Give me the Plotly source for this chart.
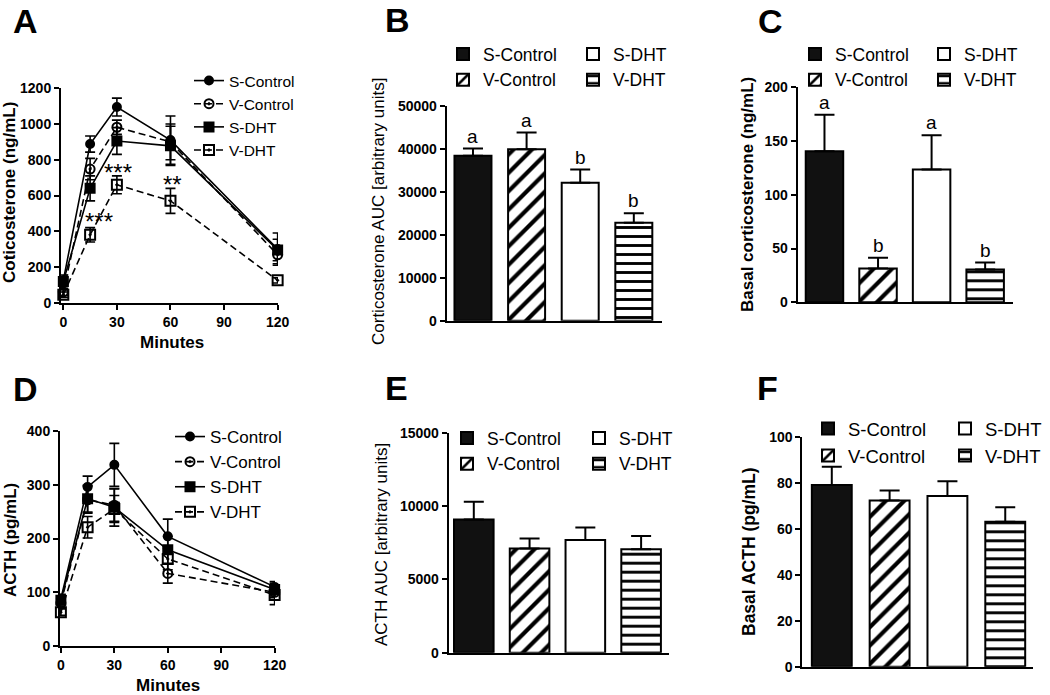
import plotly.graph_objects as go

FONT = "Liberation Sans, Arial, Helvetica, sans-serif"
W, H = 1050, 695

groups = ["S-Control", "V-Control", "S-DHT", "V-DHT"]
minutes = [0, 15, 30, 60, 120]

# Panel A: corticosterone time course (ng/mL)
cort_s_control = [125, 888, 1095, 910, 300]
cort_s_control_err = [30, 45, 50, 135, 90]
cort_v_control = [60, 748, 982, 900, 268]
cort_v_control_err = [20, 60, 40, 100, 50]
cort_s_dht = [118, 640, 905, 878, 295]
cort_s_dht_err = [25, 70, 75, 110, 60]
cort_v_dht = [45, 380, 660, 570, 125]
cort_v_dht_err = [15, 40, 50, 70, 15]
sig_x = [20, 30.5, 61]
sig_y = [474, 748, 677]
sig_text = ["***", "***", "**"]

# Panel D: ACTH time course (pg/mL)
acth_s_control = [88, 296, 337, 204, 110]
acth_s_control_err = [8, 20, 40, 32, 10]
acth_v_control = [80, 272, 262, 135, 100]
acth_v_control_err = [8, 25, 30, 18, 10]
acth_s_dht = [85, 274, 258, 179, 105]
acth_s_dht_err = [8, 25, 35, 25, 12]
acth_v_dht = [63, 221, 255, 162, 95]
acth_v_dht_err = [6, 20, 25, 20, 18]

# Panel B: corticosterone AUC
cort_auc = [38400, 39900, 32100, 22800]
cort_auc_err = [1700, 3900, 3100, 2200]
cort_auc_letters = ["a", "a", "b", "b"]

# Panel C: basal corticosterone (ng/mL)
basal_cort = [140.5, 31.5, 123.5, 30.5]
basal_cort_err = [34, 10, 32, 6.5]
basal_cort_letters = ["a", "b", "a", "b"]

# Panel E: ACTH AUC
acth_auc = [9090, 7110, 7680, 7050]
acth_auc_err = [1200, 680, 860, 900]

# Panel F: basal ACTH (pg/mL)
basal_acth = [79.2, 72.4, 74.4, 63.2]
basal_acth_err = [8, 4.4, 6.4, 6.3]

# ---------------- styles ----------------
line_style = {
    "S-Control": dict(dash="solid", symbol="circle", size=8),
    "V-Control": dict(dash="7px,4px", symbol="circle-open-dot", size=9),
    "S-DHT": dict(dash="solid", symbol="square", size=9),
    "V-DHT": dict(dash="7px,4px", symbol="square-open-dot", size=10),
}
bar_style = {
    "S-Control": dict(color="#111111", shape="", size=8),
    "V-Control": dict(color="white", shape="/", size=13),
    "S-DHT": dict(color="white", shape="", size=8),
    "V-DHT": dict(color="white", shape="-", size=9),
}


def dom_x(a, b):
    return [a / W, b / W]


def dom_y(top, bottom):
    return [1 - bottom / H, 1 - top / H]


fig = go.Figure()

# ---------------- line panels ----------------
time_sets = {
    "A": ("x", "y", "legend",
          [cort_s_control, cort_v_control, cort_s_dht, cort_v_dht],
          [cort_s_control_err, cort_v_control_err, cort_s_dht_err, cort_v_dht_err]),
    "D": ("x4", "y4", "legend4",
          [acth_s_control, acth_v_control, acth_s_dht, acth_v_dht],
          [acth_s_control_err, acth_v_control_err, acth_s_dht_err, acth_v_dht_err]),
}
for key, (xa, ya, leg, means, errs) in time_sets.items():
    for g, m, e in zip(groups, means, errs):
        st = line_style[g]
        fig.add_trace(go.Scatter(
            x=minutes, y=m, name=g, mode="lines+markers", xaxis=xa, yaxis=ya,
            legend=leg, cliponaxis=False,
            line=dict(color="black", width=1.6, dash=st["dash"]),
            marker=dict(symbol=st["symbol"], size=st["size"], color="black",
                        line=dict(color="black", width=2)),
            error_y=dict(type="data", array=e, visible=True, color="black",
                         thickness=1.6, width=5),
        ))

# ---------------- bar panels ----------------
bar_sets = [
    ("x2", "y2", ("legend2", "legend3"), cort_auc, cort_auc_err, 0.69),
    ("x3", "y3", ("legend5", "legend6"), basal_cort, basal_cort_err, 0.70),
    ("x5", "y5", ("legend7", "legend8"), acth_auc, acth_auc_err, 0.71),
    ("x6", "y6", ("legend9", "legend10"), basal_acth, basal_acth_err, 0.69),
]
for xa, ya, legs, vals, errs, bw in bar_sets:
    for i, g in enumerate(groups):
        st = bar_style[g]
        leg = legs[0] if g.endswith("Control") else legs[1]
        marker = dict(color=st["color"], line=dict(color="black", width=2))
        if st["shape"]:
            marker["pattern"] = dict(shape=st["shape"], fgcolor="black", bgcolor="white",
                                     fgopacity=1, size=st["size"], solidity=0.32)
        fig.add_trace(go.Bar(
            x=[g], y=[vals[i]], name=g, xaxis=xa, yaxis=ya, legend=leg,
            width=bw, marker=marker, cliponaxis=False,
            error_y=dict(type="data", array=[errs[i]], arrayminus=[0], symmetric=False,
                         visible=True, color="black", thickness=2, width=10),
        ))

# ---------------- axes ----------------
tickfont = dict(family=FONT, size=14, color="black", weight="bold")
axis_common = dict(showline=True, linecolor="black", linewidth=2, showgrid=False,
                   zeroline=False, fixedrange=True, tickfont=tickfont,
                   ticks="outside", ticklen=5, tickwidth=2, tickcolor="black",
                   tickformat="d", automargin=False)


def y_axis(dom, rng, dtick, anchor):
    return dict(axis_common, domain=dom, range=rng, dtick=dtick, tick0=0, anchor=anchor)


def x_time(dom, rng, anchor):
    return dict(axis_common, domain=dom, range=rng, tickvals=[0, 30, 60, 90, 120], anchor=anchor)


def x_bar(dom, rng, anchor):
    return dict(showline=True, linecolor="black", linewidth=2, showgrid=False, zeroline=False,
                fixedrange=True, type="category", categoryorder="array", categoryarray=groups,
                showticklabels=False, ticks="", domain=dom, range=rng, anchor=anchor,
                automargin=False)


fig.update_layout(
    xaxis=x_time(dom_x(61, 278), [-1.3, 120.2], "y"),
    yaxis=y_axis(dom_y(88.3, 302.7), [0, 1200], 200, "x"),
    xaxis2=x_bar(dom_x(446.7, 661.7), [-0.49, 3.52], "y2"),
    yaxis2=y_axis(dom_y(106, 320.7), [0, 50000], 10000, "x2"),
    xaxis3=x_bar(dom_x(797.7, 1013), [-0.5, 3.52], "y3"),
    yaxis3=y_axis(dom_y(87.3, 302.3), [0, 200], 50, "x3"),
    xaxis4=x_time(dom_x(60, 275), [-0.5, 120.2], "y4"),
    yaxis4=y_axis(dom_y(431, 646), [0, 400], 100, "x4"),
    xaxis5=x_bar(dom_x(448.7, 669), [-0.45, 3.5], "y5"),
    yaxis5=y_axis(dom_y(432.7, 652.7), [0, 15000], 5000, "x5"),
    xaxis6=x_bar(dom_x(802.3, 1033), [-0.51, 3.48], "y6"),
    yaxis6=y_axis(dom_y(437.3, 666.7), [0, 100], 20, "x6"),
)


# ---------------- legends ----------------
def legend_at(left, top, size):
    return dict(x=left / W, y=1 - top / H, xanchor="left", yanchor="top",
                bgcolor="rgba(0,0,0,0)", borderwidth=0, itemwidth=30,
                tracegroupgap=0, traceorder="normal",
                font=dict(family=FONT, size=size, color="black"))


fig.update_layout(
    legend=legend_at(189, 64, 15.5),
    legend4=legend_at(170, 419, 17),
    legend2=legend_at(443, 36, 17.5),
    legend3=legend_at(573, 36, 17.5),
    legend5=legend_at(795, 36, 17.5),
    legend6=legend_at(924, 36, 17.5),
    legend7=legend_at(447, 420, 17.5),
    legend8=legend_at(579, 420, 17.5),
    legend9=legend_at(808, 410, 18.5),
    legend10=legend_at(945, 410, 18.5),
)

# ---------------- annotations ----------------
ann = []


def paper_text(text, cx, cy, size, angle=0):
    ann.append(dict(text=text, x=cx / W, y=1 - cy / H, xref="paper", yref="paper",
                    showarrow=False, textangle=angle, xanchor="center", yanchor="middle",
                    font=dict(family=FONT, size=size, color="black")))


# panel letters
for letter, cx, cy in [("A", 25, 21), ("B", 397, 20), ("C", 770, 21),
                       ("D", 25, 389), ("E", 396, 388), ("F", 767, 388)]:
    paper_text("<b>%s</b>" % letter, cx, cy, 34)

# axis titles
paper_text("<b>Coticosterone (ng/mL)</b>", 9, 193, 17, -90)
paper_text("<b>Minutes</b>", 172, 342, 17)
paper_text("Corticosterone AUC [arbitrary units]", 379, 212, 17, -90)
paper_text("<b>Basal corticosterone (ng/mL)</b>", 747, 195, 17, -90)
paper_text("<b>ACTH (pg/mL)</b>", 10, 540, 17, -90)
paper_text("<b>Minutes</b>", 168, 685, 17)
paper_text("ACTH AUC [arbitrary units]", 381, 545, 17, -90)
paper_text("<b>Basal ACTH (pg/mL)</b>", 749, 552, 17.5, -90)

# significance stars in A
for sx, sy, st in zip(sig_x, sig_y, sig_text):
    ann.append(dict(text=st, x=sx, y=sy, xref="x", yref="y", showarrow=False,
                    xanchor="center", yanchor="middle", yshift=-3,
                    font=dict(family=FONT, size=24, color="black")))

# group letters in B and C
for xa, ya, vals, errs, letters in [("x2", "y2", cort_auc, cort_auc_err, cort_auc_letters),
                                    ("x3", "y3", basal_cort, basal_cort_err, basal_cort_letters)]:
    for g, v, e, l in zip(groups, vals, errs, letters):
        ann.append(dict(text=l, x=g, y=v + e, xref=xa, yref=ya, showarrow=False,
                        xanchor="center", yanchor="bottom", yshift=0,
                        font=dict(family=FONT, size=19, color="black")))

fig.update_layout(
    annotations=ann,
    width=W, height=H,
    margin=dict(l=0, r=0, t=0, b=0, pad=0, autoexpand=False),
    paper_bgcolor="white", plot_bgcolor="white",
    barmode="overlay",
    showlegend=True,
    hovermode=False,
    font=dict(family=FONT, color="black"),
)

fig.write_html("out.html",
               config={"displayModeBar": False, "staticPlot": True},
               post_script="document.body.style.margin='0px';document.body.style.overflow='hidden';")
